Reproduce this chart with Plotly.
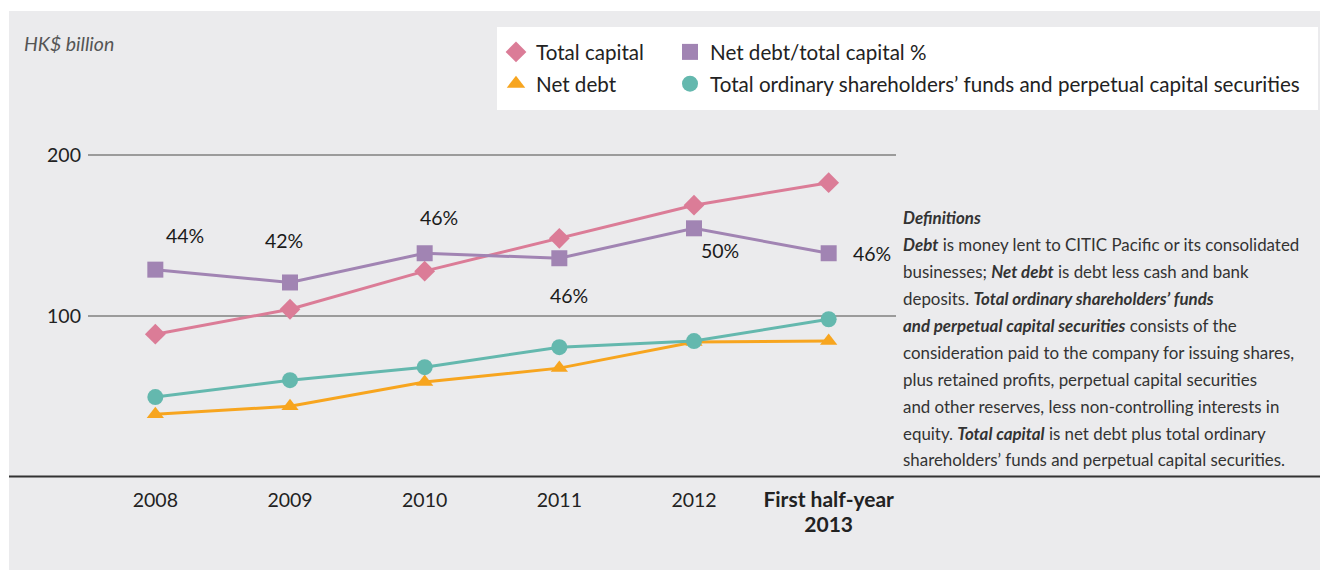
import plotly.graph_objects as go

# Categories and series (HK$ billion)
periods = ["2008", "2009", "2010", "2011", "2012", "First half-year 2013"]
tick_text = ["2008", "2009", "2010", "2011", "2012",
             "<span style='font-size:21px'><b>First half-year<br>2013</b></span>"]
total_capital = [88.8, 104.3, 128.0, 148.4, 169.0, 183.0]
net_debt = [39.0, 44.0, 59.0, 67.7, 83.9, 84.5]
shareholders_funds = [49.7, 60.2, 68.3, 80.7, 84.5, 98.1]
net_debt_ratio_pct = [44.0, 42.2, 46.3, 45.6, 49.8, 46.3]

# Pixel nudges for the percentage labels (dx right, dy up)
label_offsets = [(30, 34), (-6, 42), (14, 36), (10, -37), (26, -22), (43, 0)]

PINK = "#db7c97"
PURPLE = "#a184b3"
ORANGE = "#f7a51f"
TEAL = "#64b8ae"
BG = "#ebebed"
FONT = "Lato"

W, H = 1320, 570
ML, MR, MT, MB = 88, 424, 91, 93
PW, PH = W - ML - MR, H - MT - MB


def xp(px):
    return (px - ML) / PW


def yp(py):
    return (H - MB - py) / PH


fig = go.Figure()

series = [
    ("Total capital", total_capital, PINK, "diamond", 16, "y", "legend"),
    ("Net debt", net_debt, ORANGE, "triangle-up", 15, "y", "legend"),
    ("Net debt/total capital %", net_debt_ratio_pct, PURPLE, "square", 16, "y2", "legend2"),
    ("Total ordinary shareholders’ funds and perpetual capital securities",
     shareholders_funds, TEAL, "circle", 16, "y", "legend2"),
]

for name, vals, color, sym, size, yax, leg in series:
    fig.add_trace(go.Scatter(
        x=periods, y=vals, yaxis=yax, mode="lines+markers", name=name,
        line=dict(color=color, width=3),
        marker=dict(symbol=sym, size=size, color=color),
        showlegend=False, hoverinfo="skip",
    ))

# Legend entries show the marker only
for name, vals, color, sym, size, yax, leg in series:
    fig.add_trace(go.Scatter(
        x=[None], y=[None], yaxis=yax, mode="markers", name=name,
        marker=dict(symbol=sym, size=16, color=color),
        legend=leg, legendgroup=name, showlegend=True,
    ))

# Percentage labels (category positions by index)
for i, (v, (dx, dy)) in enumerate(zip(net_debt_ratio_pct, label_offsets)):
    fig.add_annotation(x=i, y=v, xref="x", yref="y2", text=f"{v:.0f}%",
                       showarrow=False, xshift=dx, yshift=dy,
                       font=dict(family=FONT, size=19.5, color="#1a1a1a"))

# Definitions panel
definitions = [
    "<b><i>Definitions</i></b>",
    "<b><i>Debt</i></b> is money lent to CITIC Pacific or its consolidated",
    "businesses; <b><i>Net debt</i></b> is debt less cash and bank",
    "deposits. <b><i>Total ordinary shareholders’ funds</i></b>",
    "<b><i>and perpetual capital securities</i></b> consists of the",
    "consideration paid to the company for issuing shares,",
    "plus retained profits, perpetual capital securities",
    "and other reserves, less non-controlling interests in",
    "equity. <b><i>Total capital</i></b> is net debt plus total ordinary",
    "shareholders’ funds and perpetual capital securities.",
]
line_y = [217, 244, 271, 298, 325, 352, 379, 406, 433, 459]
for txt, ly in zip(definitions, line_y):
    fig.add_annotation(x=xp(901), y=yp(ly), xref="paper", yref="paper",
                       xanchor="left", yanchor="middle", text=txt, showarrow=False,
                       font=dict(family=FONT, size=16.9, color="#333333"))

# Unit label
fig.add_annotation(x=xp(22), y=yp(43), xref="paper", yref="paper",
                   xanchor="left", yanchor="middle", text="<i>HK$ billion</i>",
                   showarrow=False, font=dict(family=FONT, size=19.5, color="#555555"))

shapes = [
    # panel background
    dict(type="rect", xref="paper", yref="paper", x0=xp(9), x1=xp(W), y0=yp(H), y1=yp(11),
         fillcolor=BG, line=dict(width=0), layer="below"),
    # legend box
    dict(type="rect", xref="paper", yref="paper", x0=xp(497), x1=xp(1318), y0=yp(110), y1=yp(27),
         fillcolor="white", line=dict(width=0), layer="below"),
    # baseline across the panel
    dict(type="line", xref="paper", yref="paper", x0=xp(9), x1=xp(W), y0=yp(476.5), y1=yp(476.5),
         line=dict(color="#333333", width=2), layer="above"),
]

legend_common = dict(
    orientation="v", xanchor="left", yanchor="top", bgcolor="rgba(0,0,0,0)",
    font=dict(family=FONT, size=20.6, color="#222222"), traceorder="grouped",
    tracegroupgap=2, itemclick=False, itemdoubleclick=False,
)

fig.update_layout(
    width=W, height=H,
    margin=dict(l=ML, r=MR, t=MT, b=MB, autoexpand=False),
    paper_bgcolor="white", plot_bgcolor="rgba(0,0,0,0)",
    font=dict(family=FONT, size=19, color="#222222"),
    shapes=shapes,
    xaxis=dict(type="category", categoryorder="array", categoryarray=periods,
               tickvals=periods, ticktext=tick_text, range=[-0.5, 5.5],
               showgrid=False, zeroline=False, showline=False, ticks="",
               ticklabelstandoff=9,
               tickfont=dict(family=FONT, size=19.5, color="#222222")),
    yaxis=dict(range=[0, 240], tickvals=[100, 200], showgrid=True,
               gridcolor="#9b9b9b", gridwidth=2, zeroline=False, showline=False,
               ticks="", ticklabelstandoff=6,
               tickfont=dict(family=FONT, size=19.5, color="#222222")),
    yaxis2=dict(overlaying="y", range=[14.9, 69.07], visible=False),
    legend=dict(x=xp(496), y=yp(32), **legend_common),
    legend2=dict(x=xp(670), y=yp(32), **legend_common),
    showlegend=True,
)

fig.write_html("out.html")
